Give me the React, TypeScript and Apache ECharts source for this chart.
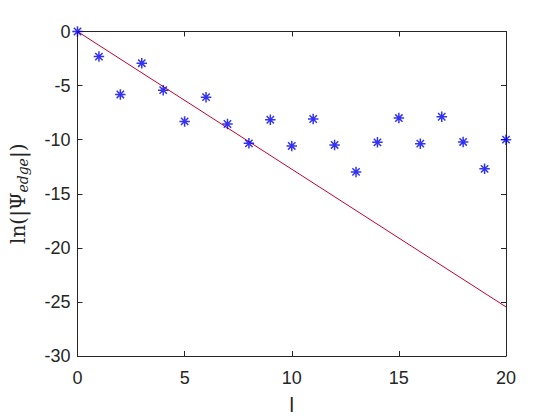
import React, { useEffect, useRef } from "react";
import * as echarts from "echarts";

const xValues = [0, 1, 2, 3, 4, 5, 6, 7, 8, 9, 10, 11, 12, 13, 14, 15, 16, 17, 18, 19, 20];
const psiValues = [0, -2.32, -5.82, -2.93, -5.42, -8.31, -6.07, -8.55, -10.34, -8.16, -10.58, -8.09, -10.49, -12.98, -10.25, -8.0, -10.37, -7.88, -10.21, -12.7, -10.0];
const fitLine = [[0, 0], [20, -25.46]];

const tickColor = "#262626";
const font = "Arial, 'Liberation Sans', Helvetica, sans-serif";
const serif = "'DejaVu Serif', 'Liberation Serif', serif";

export default function App() {
  const ref = useRef<HTMLDivElement>(null);
  useEffect(() => {
    if (!ref.current) return;
    const chart = echarts.init(ref.current, undefined, { renderer: "svg" });
    const axisCommon = {
      axisLine: { show: true, onZero: false, lineStyle: { color: tickColor, width: 1 } },
      axisTick: { show: true, inside: true, length: 5, lineStyle: { color: tickColor } },
      splitLine: { show: false },
    };
    chart.setOption({
      animation: false,
      backgroundColor: "#fff",
      grid: { left: 73, right: 54, top: 31.5, bottom: 63, containLabel: false },
      xAxis: [
        {
          type: "value", min: 0, max: 20, interval: 5, position: "bottom",
          ...axisCommon,
          axisLabel: { color: tickColor, fontSize: 18, fontFamily: font, margin: 13 },
          name: "l", nameLocation: "middle", nameGap: 39,
          nameTextStyle: { color: tickColor, fontSize: 20, fontFamily: font },
        },
        {
          type: "value", min: 0, max: 20, interval: 5, position: "top",
          ...axisCommon, axisLabel: { show: false },
        },
      ],
      yAxis: [
        {
          type: "value", min: -30, max: 0, interval: 5, position: "left",
          ...axisCommon,
          axisLabel: { color: tickColor, fontSize: 18, fontFamily: font, margin: 7 },
          name: "{a|ln(|Ψ}{b|edge}{a||)}", nameLocation: "middle", nameGap: 48,
          nameTextStyle: {
            color: tickColor,
            rich: {
              a: { fontSize: 20, fontFamily: serif, color: tickColor },
              b: { fontSize: 14, fontFamily: serif, fontStyle: "italic", color: tickColor, padding: [9, 0, 0, 0] },
            },
          },
        },
        {
          type: "value", min: -30, max: 0, interval: 5, position: "right",
          ...axisCommon, axisLabel: { show: false },
        },
      ],
      series: [
        {
          type: "line",
          data: fitLine,
          showSymbol: false,
          symbol: "none",
          lineStyle: { color: "#c8002a", width: 1 },
          z: 2,
        },
        {
          type: "scatter",
          data: xValues.map((x, i) => [x, psiValues[i]]),
          symbol: "path://M0,-5L0,5M-5,0L5,0M-3.5,-3.5L3.5,3.5M-3.5,3.5L3.5,-3.5",
          symbolSize: 10.5,
          itemStyle: { color: "none", borderColor: "#0000ee", borderWidth: 1.5 },
          z: 3,
        },
      ],
    });
    return () => chart.dispose();
  }, []);
  return <div ref={ref} style={{ position: "fixed", left: 0, top: 0, width: 560, height: 420 }} />;
}
